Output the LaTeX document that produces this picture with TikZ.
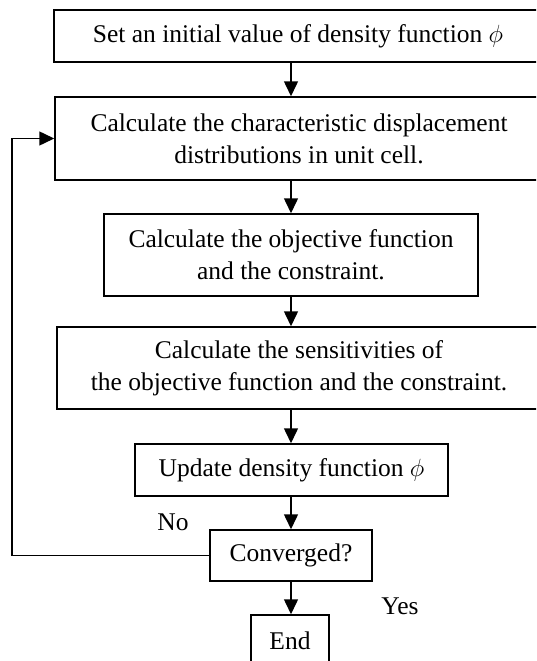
\documentclass[tikz,border=0pt]{standalone}
\usepackage{fontspec}
\setmainfont{Liberation Serif}
\usetikzlibrary{arrows.meta,positioning}
\tikzset{
  >={Triangle[length=15pt,width=14pt]},
  box/.style={draw,line width=1.5pt,align=center,inner sep=2pt,font=\fontsize{25.5}{32}\selectfont},
  flow/.style={->,line width=1.5pt},
  lab/.style={font=\fontsize{25.5}{30}\selectfont,inner sep=0pt}
}

\begin{document}
\begin{tikzpicture}[x=1pt,y=-1pt]
        \useasboundingbox (0,0) rectangle (536,661);
        \clip (0,0) rectangle (536,661);
        \node[box,minimum width=488pt,minimum height=52pt] (init) at (298,36) {Set an initial value of density function $\phi$};
        \node[box,minimum width=488pt,minimum height=83pt] (disp) at (299,138.5) {Calculate the characteristic displacement\\distributions in unit cell.};
        \node[box,minimum width=374pt,minimum height=82pt] (obj) at (291,255) {Calculate the objective function\\and the constraint.};
        \node[box,minimum width=484pt,minimum height=82pt] (sens) at (299,368) {Calculate the sensitivities of\\the objective function and the constraint.};
        \node[box,minimum width=313pt,minimum height=52pt] (upd) at (291.5,470) {Update density function $\phi$};
        \node[box,minimum width=162pt,minimum height=51pt] (conv) at (291,555.5) {Converged?};
        \node[box,minimum width=78pt,minimum height=52pt] (stop) at (290,641) {End};
        \coordinate (loop) at (12,555.5);
        \node[lab] (no) at (173,522) {No};
        \node[lab] (yes) at (400,606) {Yes};
        \draw[flow] (init.south -| obj.north) -- (disp.north -| obj.north);
        \draw[flow] (disp.south -| obj.north) -- (obj.north);
        \draw[flow] (obj.south) -- (sens.north -| obj.south);
        \draw[flow] (sens.south -| obj.south) -- (upd.north -| obj.south);
        \draw[flow] (upd.south -| conv.north) -- (conv.north);
        \draw[flow] (conv.south) -- (stop.north -| conv.south);
        \draw[flow] (conv.west) -- (loop) |- (disp.west);
      \end{tikzpicture}
\end{document}
